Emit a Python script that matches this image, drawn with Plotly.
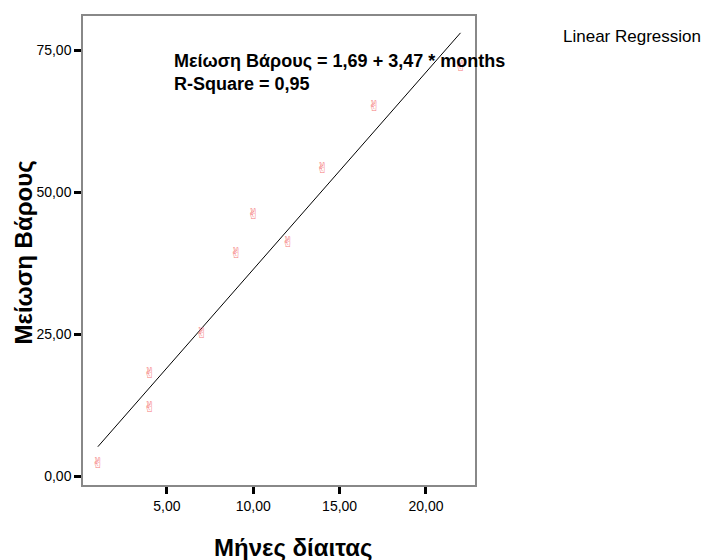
import plotly.graph_objects as go

months = [1, 4, 4, 7, 9, 10, 12, 14, 17, 22]
weight_loss = [2.0, 18.0, 12.0, 25.0, 39.0, 46.0, 41.0, 54.0, 65.0, 72.0]
intercept = 1.69
slope = 3.47
x_ticks = [5, 10, 15, 20]
x_tick_labels = ["5,00", "10,00", "15,00", "20,00"]
y_ticks = [0, 25, 50, 75]
y_tick_labels = ["0,00", "25,00", "50,00", "75,00"]

fit_x = [min(months), max(months)]
fit_y = [intercept + slope * v for v in fit_x]

fig = go.Figure()
fig.add_trace(go.Scatter(
    x=fit_x, y=fit_y, mode="lines",
    line=dict(color="black", width=1), showlegend=False, hoverinfo="skip"))
fig.add_trace(go.Scatter(
    x=months, y=weight_loss, mode="text", text=["✌"] * len(months),
    textfont=dict(color="rgb(245,120,120)", size=15, family="DejaVu Sans"),
    textposition="middle center", showlegend=False))

fig.add_annotation(
    x=0, y=1, xref="paper", yref="paper", xanchor="left", yanchor="top", align="left",
    xshift=89, yshift=-33, showarrow=False,
    text="<b>Μείωση Βάρους = 1,69 + 3,47 * months<br>R-Square = 0,95</b>",
    font=dict(family="Liberation Sans, Arial", size=18, color="black"))
fig.add_annotation(
    x=1, y=1, xref="paper", yref="paper", xanchor="left", yanchor="middle",
    xshift=86, yshift=-20, showarrow=False, text="Linear Regression",
    font=dict(family="Liberation Sans, Arial", size=17, color="black"))
fig.add_annotation(
    x=0.5, y=0, xref="paper", yref="paper", xanchor="center", yanchor="middle",
    xshift=14, yshift=-62, showarrow=False, text="<b>Μήνες δίαιτας</b>",
    font=dict(family="Liberation Sans, Arial", size=24, color="black"))
fig.add_annotation(
    x=0, y=0.5, xref="paper", yref="paper", xanchor="center", yanchor="middle",
    xshift=-60, yshift=-2, showarrow=False, textangle=-90, text="<b>Μείωση Βάρους</b>",
    font=dict(family="Liberation Sans, Arial", size=24, color="black"))

axis_common = dict(
    showgrid=False, zeroline=False, showline=True, linecolor="#888888", linewidth=1.5,
    mirror=True, ticks="outside", tickcolor="black", tickwidth=3, ticklen=7,
    automargin=False,
    tickfont=dict(family="Liberation Sans, Arial", size=14, color="black"))

fig.update_layout(
    width=708, height=560,
    margin=dict(l=83, r=233, t=16, b=75),
    paper_bgcolor="white", plot_bgcolor="white",
    xaxis=dict(range=[0.14, 22.84], tickvals=x_ticks, ticktext=x_tick_labels,
               **axis_common),
    yaxis=dict(range=[-1.58, 81.0], tickvals=y_ticks, ticktext=y_tick_labels,
               **axis_common),
)

fig.write_html("out.html", config={"displayModeBar": False},
               post_script="document.body.style.margin='0';document.body.style.overflow='hidden';")
